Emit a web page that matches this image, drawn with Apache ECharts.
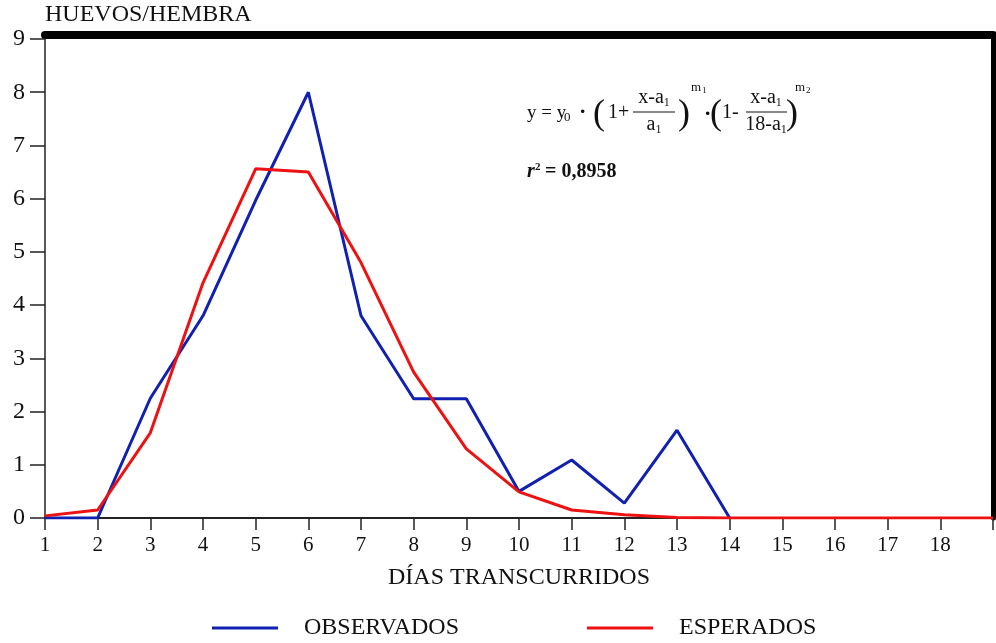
<!DOCTYPE html>
<html>
<head>
<meta charset="utf-8">
<script src="https://cdn.jsdelivr.net/npm/echarts@6/dist/echarts.min.js"></script>
<style>html,body{margin:0;padding:0;background:#fff}#c{width:996px;height:643px}</style>
</head>
<body>
<div id="c"></div>
<script>
// Data
var obsDays = [1,2,3,4,5,6,7,8,9,10,11,12,13,14];
var observados = [0,0,2.25,3.8,5.97,8.0,3.8,2.24,2.24,0.5,1.09,0.28,1.65,0];
var espDays = [1,2,3,4,5,6,7,8,9,10,11,12,13,14,15,16,17,18,19];
var esperados = [0.04,0.15,1.6,4.42,6.56,6.5,4.8,2.74,1.3,0.49,0.15,0.06,0.01,0,0,0,0,0,0];
var xTickLabels = ['1','2','3','4','5','6','7','8','9','10','11','12','13','14','15','16','17','18'];
var yTickLabels = ['0','1','2','3','4','5','6','7','8','9'];

var F = 'Liberation Serif';
var mctx = document.createElement('canvas').getContext('2d');
function fontStr(size, extra){ return (extra||'') + ' ' + size + 'px "' + F + '"'; }
function measure(t, size, extra){ mctx.font = fontStr(size, extra); return mctx.measureText(t).width; }
function pairs(xs, ys){ return xs.map(function(x,i){ return [x, ys[i]]; }); }
function txt(t, x, y, size, extra){
  return {type:'text', style:{text:t, x:x, y:y, fill:'#111', font: fontStr(size, extra), verticalAlign:'middle'}, z:10};
}
function ln(x1,x2,y){ return {type:'line', shape:{x1:x1,y1:y,x2:x2,y2:y}, style:{stroke:'#111', lineWidth:1.2}, z:10}; }
// text with subscript, centered on cx
function subPair(main, sub, cx, y, size){
  var w1 = measure(main, size), w2 = measure(sub, 12);
  var x0 = cx - (w1 + w2) / 2;
  return [txt(main, x0, y, size), txt(sub, x0 + w1, y + 5, 12)];
}

var graphics = [].concat(
  [txt('y = y', 527, 113, 19), txt('0', 564, 118, 13), txt('·', 579, 112, 22, 'bold'),
   txt('(', 593, 115, 36), txt('1+', 608, 113, 20)],
  subPair('x-a', '1', 654, 98, 20),
  [ln(633, 675, 112)],
  subPair('a', '1', 654, 125, 20),
  [txt(')', 678, 115, 36), txt('m', 691, 88, 13), txt('1', 702, 91, 9),
   txt('·', 704, 114, 22, 'bold'), txt('(', 710, 115, 36), txt('1-', 722, 113, 20)],
  subPair('x-a', '1', 766, 98, 20),
  [ln(746, 787, 112)],
  subPair('18-a', '1', 766, 125, 20),
  [txt(')', 786, 115, 36), txt('m', 795, 88, 13), txt('2', 806, 91, 9),
   txt('r', 527, 172, 20, 'italic bold'), txt('2', 535, 167, 11, 'bold'),
   txt('= 0,8958', 545, 172, 20, 'bold')]
);

var chart = echarts.init(document.getElementById('c'));
chart.setOption({
  animation:false,
  backgroundColor:'#fff',
  grid:{left:45, right:3, top:39, bottom:125},
  xAxis:[{
    type:'value', min:1, max:19, interval:1,
    name:'DÍAS TRANSCURRIDOS', nameLocation:'middle', nameGap:48,
    nameTextStyle:{fontFamily:F, fontSize:24, color:'#111'},
    axisLine:{onZero:false, lineStyle:{color:'#222', width:2}},
    axisTick:{length:12, lineStyle:{color:'#222', width:1.5}},
    axisLabel:{margin:17, fontFamily:F, fontSize:21, color:'#111',
      formatter:function(v){ var i = Math.round(v)-1; return xTickLabels[i] || ''; }},
    splitLine:{show:false}
  },{
    type:'value', min:1, max:19, position:'top', offset:4,
    axisLine:{show:true, onZero:false, lineStyle:{color:'#000', width:8}},
    axisTick:{show:false}, axisLabel:{show:false}, splitLine:{show:false}
  }],
  yAxis:[{
    type:'value', min:0, max:9, interval:1,
    name:'HUEVOS/HEMBRA', nameLocation:'end', nameGap:12,
    nameTextStyle:{fontFamily:F, fontSize:24, color:'#111', align:'left'},
    axisLine:{show:true, onZero:false, lineStyle:{color:'#222', width:1.5}},
    axisTick:{show:true, length:15, lineStyle:{color:'#222', width:1.5}},
    axisLabel:{margin:20, fontFamily:F, fontSize:24, color:'#111',
      formatter:function(v){ return yTickLabels[Math.round(v)]; }},
    splitLine:{show:false}
  },{
    type:'value', min:0, max:9, position:'right',
    axisLine:{show:true, onZero:false, lineStyle:{color:'#000', width:5}},
    axisTick:{show:false}, axisLabel:{show:false}, splitLine:{show:false}
  }],
  legend:{
    top:611, left:207, icon:'rect', itemWidth:66, itemHeight:3, itemGap:128,
    textStyle:{fontFamily:F, fontSize:24, color:'#111', padding:[0,0,0,21]},
    data:['OBSERVADOS','ESPERADOS']
  },
  series:[{
    name:'OBSERVADOS', type:'line', data:pairs(obsDays, observados),
    showSymbol:false, symbol:'none', lineStyle:{color:'#1020b0', width:3}, itemStyle:{color:'#1020b0'}, z:3
  },{
    name:'ESPERADOS', type:'line', data:pairs(espDays, esperados),
    showSymbol:false, symbol:'none', lineStyle:{color:'#ee1111', width:3}, itemStyle:{color:'#ee1111'}, z:4
  }],
  graphic:graphics
});
</script>
</body>
</html>
